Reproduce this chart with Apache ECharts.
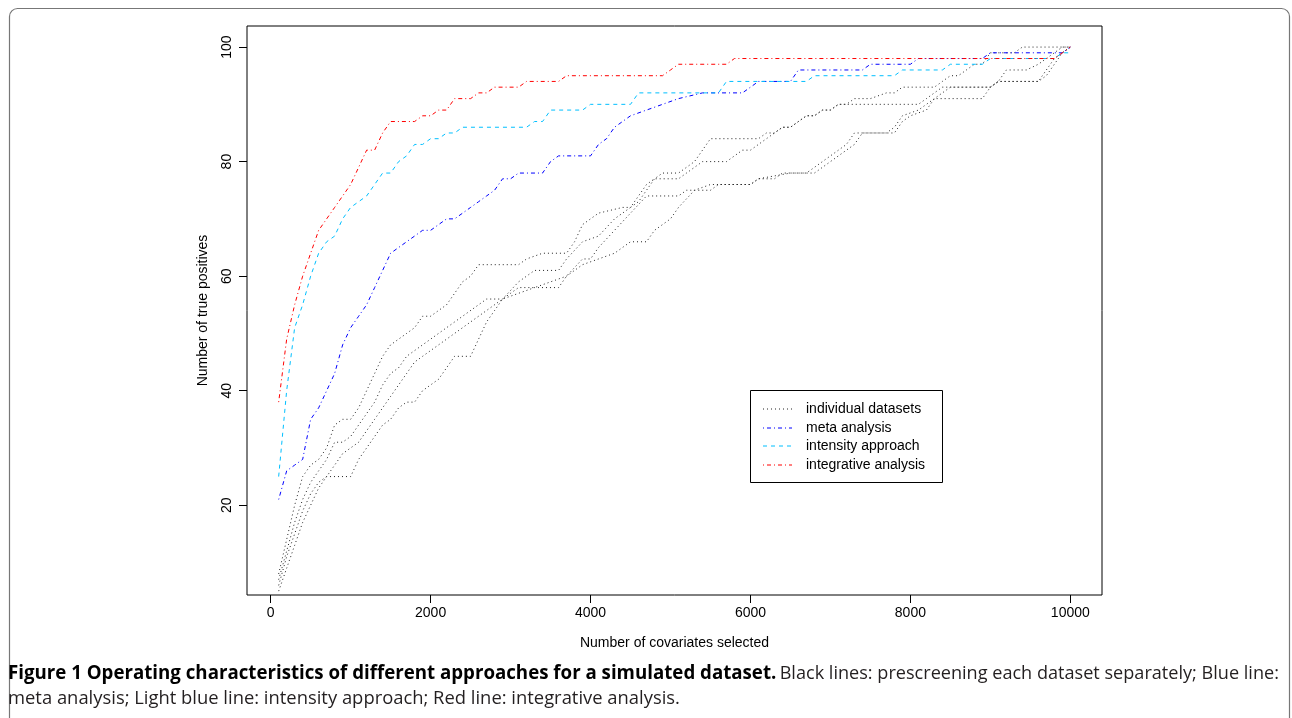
<!DOCTYPE html>
<html>
<head>
<meta charset="utf-8">
<script src="https://cdn.jsdelivr.net/npm/echarts@6/dist/echarts.min.js"></script>
<style>
  html, body { margin: 0; padding: 0; background: #fff; }
  #main { width: 1292px; height: 718px; }
</style>
</head>
<body>
<div id="main"></div>
<script>
// tick labels
var xTicks = [0, 2000, 4000, 6000, 8000, 10000];
var yTicks = [20, 40, 60, 80, 100];

// integrative analysis (red)
var integrative = [[100,38],[200,49],[300,55],[400,60],[500,64],[600,68],[700,70],[800,72],[900,74],[1000,76],[1100,79],[1200,82],[1300,82],[1400,85],[1500,87],[1800,87],[1900,88],[2000,88],[2100,89],[2200,89],[2300,91],[2500,91],[2600,92],[2700,92],[2800,93],[3100,93],[3200,94],[3600,94],[3700,95],[4900,95],[5000,96],[5100,97],[5700,97],[5800,98],[9800,98],[9900,99],[10000,100]];

// intensity approach (light blue)
var intensity = [[100,25],[200,40],[300,51],[400,55],[500,60],[600,64],[700,66],[800,67],[900,70],[1000,72],[1100,73],[1200,74],[1300,76],[1400,78],[1500,78],[1600,80],[1700,81],[1800,83],[1900,83],[2000,84],[2100,84],[2200,85],[2300,85],[2400,86],[3200,86],[3300,87],[3400,87],[3500,89],[3900,89],[4000,90],[4500,90],[4600,92],[5600,92],[5700,94],[6700,94],[6800,95],[7800,95],[7900,96],[8400,96],[8500,97],[8900,97],[9000,98],[9800,98],[9900,99],[10000,99]];

// meta analysis (blue)
var meta = [[100,21],[200,26],[300,27],[400,28],[500,35],[600,37],[700,40],[800,43],[900,48],[1000,51],[1100,53],[1200,55],[1300,58],[1400,61],[1500,64],[1600,65],[1700,66],[1800,67],[1900,68],[2000,68],[2100,69],[2200,70],[2300,70],[2400,71],[2500,72],[2600,73],[2700,74],[2800,75],[2900,77],[3000,77],[3100,78],[3400,78],[3500,80],[3600,81],[4000,81],[4100,83],[4200,84],[4300,86],[4400,87],[4500,88],[4700,89],[4900,90],[5100,91],[5400,92],[5900,92],[6000,93],[6100,94],[6500,94],[6600,96],[7400,96],[7500,97],[8000,97],[8100,98],[8900,98],[9000,99],[9900,99],[10000,100]];

// individual datasets (black, four runs)
var single1 = [[100,8],[200,14],[300,20],[400,25],[500,27],[600,28],[700,30],[800,34],[900,35],[1000,35],[1100,37],[1200,40],[1300,43],[1400,46],[1500,48],[1600,49],[1700,50],[1800,51],[1900,53],[2000,53],[2100,54],[2200,55],[2300,57],[2400,59],[2500,60],[2600,62],[3100,62],[3200,63],[3400,64],[3700,64],[3800,66],[3900,69],[4000,70],[4100,71],[4400,72],[4500,72],[4600,73],[4700,75],[4800,77],[4900,78],[5100,78],[5200,79],[5300,80],[5400,82],[5500,84],[6100,84],[6200,85],[6300,85],[6400,86],[6500,86],[6600,87],[6700,88],[6800,88],[6900,89],[7000,89],[7100,90],[7200,90],[7300,91],[7500,91],[7700,92],[7800,92],[7900,93],[8300,93],[8400,94],[8500,95],[8600,95],[8700,96],[8800,97],[8900,97],[9000,99],[9300,99],[9400,100],[10000,100]];
var single2 = [[100,7],[200,12],[300,17],[400,21],[500,24],[600,26],[700,28],[800,31],[900,31],[1000,32],[1100,34],[1200,36],[1300,38],[1400,41],[1500,43],[1600,44],[1700,46],[1800,47],[1900,48],[2000,49],[2200,51],[2400,53],[2700,56],[2900,56],[3100,59],[3300,61],[3600,61],[3700,63],[3900,66],[4100,67],[4300,70],[4500,72],[4700,76],[4800,77],[5100,77],[5200,78],[5300,79],[5400,80],[5700,80],[5800,81],[5900,82],[6000,82],[6100,83],[6200,84],[6300,85],[6400,86],[6500,86],[6600,87],[6700,88],[6800,88],[6900,89],[7000,89],[7100,90],[8100,90],[8200,91],[8300,92],[8400,93],[9000,93],[9100,94],[9600,94],[9700,96],[9800,98],[9900,99],[10000,100]];
var single3 = [[100,6],[200,11],[300,15],[400,19],[500,22],[600,24],[700,25],[800,27],[900,29],[1000,30],[1100,31],[1200,33],[1300,35],[1400,37],[1500,39],[1600,41],[1700,43],[1800,45],[1900,46],[2000,47],[2200,49],[2300,50],[2500,52],[2700,54],[2900,56],[3100,57],[3300,58],[3600,58],[3700,60],[3900,63],[4000,63],[4100,65],[4300,68],[4500,71],[4700,74],[5100,74],[5200,75],[5500,75],[5600,76],[6000,76],[6100,77],[6300,77],[6400,78],[6700,78],[6800,79],[6900,80],[7000,81],[7100,82],[7200,83],[7300,85],[7700,85],[7800,86],[7900,88],[8100,89],[8200,90],[8300,91],[8400,92],[8500,93],[9000,93],[9100,94],[9200,96],[9450,96],[9600,97],[9800,99],[9900,100],[10000,100]];
var single4 = [[100,5],[200,9],[300,13],[400,17],[500,20],[600,23],[700,25],[1000,25],[1100,28],[1200,30],[1300,32],[1400,34],[1500,35],[1600,37],[1700,38],[1800,38],[1900,40],[2000,41],[2100,42],[2200,44],[2300,46],[2500,46],[2600,49],[2700,52],[2800,54],[2900,56],[3000,57],[3100,58],[3300,58],[3500,59],[3700,60],[3900,62],[4100,63],[4300,64],[4500,66],[4700,66],[4800,68],[5000,70],[5100,72],[5300,75],[5500,76],[6000,76],[6100,77],[6500,78],[6800,78],[6900,79],[7000,80],[7200,82],[7300,83],[7400,85],[7800,85],[7900,87],[8000,88],[8200,89],[8300,91],[8900,91],[9000,93],[9100,94],[9600,94],[9700,95],[9800,97],[9900,99],[10000,100]];

var legendNames = ['individual datasets', 'meta analysis', 'intensity approach', 'integrative analysis'];

var FONT = '"Liberation Sans", Arial, sans-serif';
var CAPFONT = '"Open Sans", sans-serif';
var DOT = [1, 3];
var DOTDASH = [1, 3, 4, 3];
var DASH = [4, 4];

function lineSeries(name, data, color, dash) {
	return {
		name: name,
		type: 'line',
		data: data,
		symbol: 'none',
		silent: true,
		animation: false,
		clip: true,
		lineStyle: {
			color: color,
			width: 1,
			type: dash
		}
	};
}

function plainNumber(v) {
	return String(v);
}

var myChart = echarts.init(document.getElementById('main'));

var option = {
	backgroundColor: '#fff',
	animation: false,
	grid: {
		left: 247,
		top: 26,
		width: 855,
		height: 569,
		show: true,
		borderColor: '#000',
		borderWidth: 1,
		containLabel: false
	},
	xAxis: {
		type: 'value',
		min: -296,
		max: 10396,
		name: 'Number of covariates selected',
		nameLocation: 'middle',
		nameGap: 41,
		nameTextStyle: { fontFamily: FONT, fontSize: 14, color: '#000' },
		axisLine: { show: false, onZero: false },
		splitLine: { show: false },
		axisTick: {
			show: true,
			length: 8,
			lineStyle: { color: '#000' },
			customValues: xTicks
		},
		axisLabel: {
			fontFamily: FONT,
			fontSize: 14,
			color: '#000',
			margin: 11,
			formatter: plainNumber,
			customValues: xTicks
		}
	},
	yAxis: {
		type: 'value',
		min: 4.32,
		max: 103.68,
		name: 'Number of true positives',
		nameLocation: 'middle',
		nameGap: 37,
		nameTextStyle: { fontFamily: FONT, fontSize: 14, color: '#000' },
		axisLine: { show: false, onZero: false },
		splitLine: { show: false },
		axisTick: {
			show: true,
			length: 8,
			lineStyle: { color: '#000' },
			customValues: yTicks
		},
		axisLabel: {
			fontFamily: FONT,
			fontSize: 14,
			color: '#000',
			rotate: 90,
			margin: 13,
			formatter: plainNumber,
			customValues: yTicks
		}
	},
	series: [
		lineSeries('individual datasets', single1, '#222', DOT),
		lineSeries('individual datasets', single2, '#222', DOT),
		lineSeries('individual datasets', single3, '#222', DOT),
		lineSeries('individual datasets', single4, '#222', DOT),
		lineSeries('meta analysis', meta, '#0000ff', DOTDASH),
		lineSeries('intensity approach', intensity, '#00bfff', DASH),
		lineSeries('integrative analysis', integrative, '#ff0000', DOTDASH)
	],
	graphic: [
		// outer figure frame
		{
			type: 'rect',
			silent: true,
			shape: { x: 9.5, y: 8.5, width: 1280, height: 760, r: 8 },
			style: { fill: null, stroke: '#777', lineWidth: 1.2 }
		},
		// legend box
		{
			type: 'rect',
			silent: true,
			shape: { x: 750.5, y: 390.5, width: 192, height: 92 },
			style: { fill: '#fff', stroke: '#000', lineWidth: 1 }
		},
		{ type: 'line', silent: true, shape: { x1: 763, y1: 409, x2: 792, y2: 409 }, style: { stroke: '#222', lineWidth: 1, lineDash: DOT } },
		{ type: 'line', silent: true, shape: { x1: 763, y1: 428, x2: 792, y2: 428 }, style: { stroke: '#0000ff', lineWidth: 1, lineDash: DOTDASH } },
		{ type: 'line', silent: true, shape: { x1: 763, y1: 446, x2: 792, y2: 446 }, style: { stroke: '#00bfff', lineWidth: 1, lineDash: DASH } },
		{ type: 'line', silent: true, shape: { x1: 763, y1: 465, x2: 792, y2: 465 }, style: { stroke: '#ff0000', lineWidth: 1, lineDash: DOTDASH } },
		{ type: 'text', silent: true, x: 806, y: 409, style: { text: legendNames[0], font: '14px ' + FONT, fill: '#000', verticalAlign: 'middle' } },
		{ type: 'text', silent: true, x: 806, y: 428, style: { text: legendNames[1], font: '14px ' + FONT, fill: '#000', verticalAlign: 'middle' } },
		{ type: 'text', silent: true, x: 806, y: 446, style: { text: legendNames[2], font: '14px ' + FONT, fill: '#000', verticalAlign: 'middle' } },
		{ type: 'text', silent: true, x: 806, y: 465, style: { text: legendNames[3], font: '14px ' + FONT, fill: '#000', verticalAlign: 'middle' } },
		// caption
		{
			type: 'text',
			silent: true,
			x: 8,
			y: 674,
			style: {
				text: '{b|Figure 1 Operating characteristics of different approaches for a simulated dataset.} {r|Black lines: prescreening each dataset separately; Blue line:}',
				verticalAlign: 'middle',
				rich: {
					b: { fontFamily: CAPFONT, fontSize: 18.7, fontWeight: 'bold', fill: '#000' },
					r: { fontFamily: CAPFONT, fontSize: 18.1, fill: '#231f20' }
				}
			}
		},
		{
			type: 'text',
			silent: true,
			x: 8,
			y: 699,
			style: {
				text: 'meta analysis; Light blue line: intensity approach; Red line: integrative analysis.',
				verticalAlign: 'middle',
				font: '18.4px ' + CAPFONT,
				fill: '#231f20'
			}
		}
	]
};

myChart.setOption(option);
</script>
</body>
</html>
